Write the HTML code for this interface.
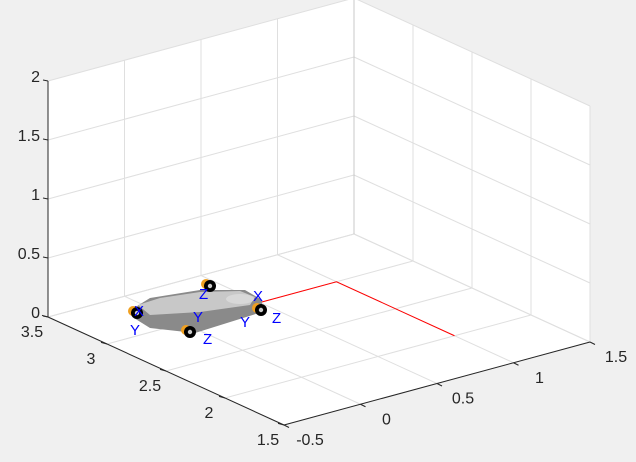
<!DOCTYPE html>
<html><head><meta charset="utf-8"><style>
html,body{margin:0;padding:0;background:#f0f0f0;}
svg{display:block;font-family:"Liberation Sans",sans-serif;}
</style></head><body>
<svg id="c" width="636" height="462"></svg>
<script>
const xTicks=[-0.5,0,0.5,1,1.5];
const yTicks=[1.5,2,2.5,3,3.5];
const zTicks=[0,0.5,1,1.5,2];
const xTickLabels=["-0.5","0","0.5","1","1.5"];
const yTickLabels=["1.5","2","2.5","3","3.5"];
const zTickLabels=["0","0.5","1","1.5","2"];
const pathX=[0.5,1,1];
const pathY=[3,3,2];
const pathZ=[0,0,0];

const NS="http://www.w3.org/2000/svg";
const svg=document.getElementById('c');
function P(x,y,z){return [284+153*(x+0.5)-118*(y-1.5), 425-41.5*(x+0.5)-54*(y-1.5)-118*z];}
function mk(tag,attrs,parent){const e=document.createElementNS(NS,tag);for(const k in attrs)e.setAttribute(k,attrs[k]);(parent||svg).appendChild(e);return e;}
function line(a,b,stroke,w,name){const e=mk('line',{x1:a[0],y1:a[1],x2:b[0],y2:b[1],stroke:stroke,'stroke-width':w});

return e;}
const x0=-0.5,x1=1.5,y0=1.5,y1=3.5,z0=0,z1=2;
const pts=[P(x0,y1,z1),P(x1,y1,z1),P(x1,y0,z1),P(x1,y0,z0),P(x0,y0,z0),P(x0,y1,z0)];
const bg=mk('polygon',{points:pts.map(p=>p.join(',')).join(' '),fill:'#fff'});


const g='#dfdfdf';
xTicks.forEach(x=>line(P(x,y1,z0),P(x,y1,z1),g,1,'grid-line'));
zTicks.forEach(z=>line(P(x0,y1,z),P(x1,y1,z),g,1,'grid-line'));
yTicks.forEach(y=>line(P(x1,y,z0),P(x1,y,z1),g,1,'grid-line'));
zTicks.forEach(z=>line(P(x1,y0,z),P(x1,y1,z),g,1,'grid-line'));
xTicks.forEach(x=>line(P(x,y0,z0),P(x,y1,z0),g,1,'grid-line'));
yTicks.forEach(y=>line(P(x0,y,z0),P(x1,y,z0),g,1,'grid-line'));
line(P(x1,y1,z0),P(x1,y1,z1),'#c8c8c8',1,'back-edge');
line(P(x0,y1,z0),P(x0,y1,z1),'#262626',1,'z-axis');
line(P(x0,y0,z0),P(x0,y1,z0),'#262626',1,'y-axis');
line(P(x0,y0,z0),P(x1,y0,z0),'#262626',1,'x-axis');
function txt(s,x,y,anchor,name){const t=mk('text',{x:x,y:y,'text-anchor':anchor,'font-size':16,fill:'#262626'});t.textContent=s;

}
zTicks.forEach((z,i)=>{const p=P(x0,y1,z);line(p,[p[0]-5,p[1]-1],'#262626',1,'z-tick');txt(zTickLabels[i],p[0]-8,p[1]+1,'end','z-tick-label');});
yTicks.forEach((y,i)=>{const p=P(x0,y,z0);line(p,[p[0]-6,p[1]-1.6],'#262626',1,'y-tick');txt(yTickLabels[i],p[0]-16,p[1]+20,'middle','y-tick-label');});
xTicks.forEach((x,i)=>{const p=P(x,y0,z0);line(p,[p[0]+5,p[1]+2.5],'#262626',1,'x-tick');txt(xTickLabels[i],p[0]+26,p[1]+20,'middle','x-tick-label');});
const pp=pathX.map((x,i)=>P(x,pathY[i],pathZ[i]).join(',')).join(' ');
const pl=mk('polyline',{points:pp,fill:'none',stroke:'#ff0000','stroke-width':1});


const car=mk('g',{});


mk('polygon',{points:'134,308 150,298 200,290 245,290 262,300 262,312 195,333 150,328 134,318',fill:'#8a8a8a'},car);
mk('polygon',{points:'138,305 160,298 200,292 240,291 255,297 250,305 200,312 150,315',fill:'#c8c8c8'},car);
mk('ellipse',{cx:240,cy:299,rx:14,ry:5,fill:'#d8d8d8'},car);
[[137,313],[190,332],[261,310],[210,286]].forEach(w=>{
 mk('ellipse',{cx:w[0]-4,cy:w[1]-2,rx:5,ry:5,fill:'#f0a020'},car);
 mk('circle',{cx:w[0],cy:w[1],r:6,fill:'#000'},car);
 mk('circle',{cx:w[0],cy:w[1],r:2.2,fill:'#ccc'},car);
});
[['X',134,316],['Y',130,335],['Z',199,299],['X',253,301],['Z',272,323],['Y',193,322],['Z',203,344],['Y',240,327]].forEach(l=>{
 const t=mk('text',{x:l[1],y:l[2],'font-size':15,fill:'#0000ff'},car);t.textContent=l[0];
});
</script>
</body></html>
